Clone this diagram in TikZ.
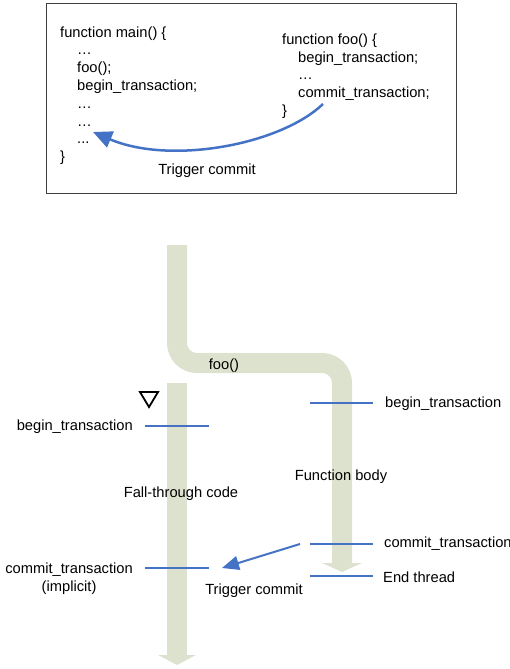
\documentclass[tikz,border=0pt]{standalone}
\usepackage{fontspec}
\setmainfont{Liberation Sans}
\usetikzlibrary{arrows.meta, positioning}
\definecolor{flowband}{RGB}{221,226,206}
\definecolor{callblue}{RGB}{68,114,196}
\newcommand{\labelfont}{\fontsize{14.7}{17.8}\selectfont}
\tikzstyle{band}      = [line width=20pt, draw=flowband]
\tikzstyle{bandtip}   = [fill=flowband]
\tikzstyle{txmark}    = [draw=callblue, line width=2pt]
\tikzstyle{callarrow} = [draw=callblue, line width=2pt, -{Triangle[length=17pt,width=14pt]}]
\tikzset{every node/.style={font=\labelfont, inner sep=0pt}}

\begin{document}
\begin{tikzpicture}[x=1pt, y=-1pt]
    \useasboundingbox (0,0) rectangle (509,669);

    % source listing (base anchor = last line)
    \draw[black!75, line width=1pt] (46,4) rectangle (456,193);
    \node[anchor=base west, align=left] (mainSrc) at (60,161.6)
        {function main() \{\\
         \hspace*{17pt}…\\
         \hspace*{17pt}foo();\\
         \hspace*{17pt}begin\_transaction;\\
         \hspace*{17pt}…\\
         \hspace*{17pt}…\\
         \hspace*{17pt}...\\
         \}};
    \node[anchor=base west, align=left] (fooSrc) at (282,115.5)
        {function foo() \{\\
         \hspace*{16pt}begin\_transaction;\\
         \hspace*{16pt}…\\
         \hspace*{16pt}commit\_transaction;\\
         \}};
    \coordinate (srcCommit) at (323,104);
    \coordinate (srcDots)   at (93,132);
    \draw[callarrow, line width=2.5pt, -{Triangle[length=19pt,width=17pt]}]
        (srcCommit) .. controls (280,145) and (170,165) .. (srcDots);
    \node[anchor=base] (trigTop) at (207,174) {Trigger commit};

    % threads
    \draw[band, rounded corners=20pt] (177,245) -- (177,363) -- (342,363) -- (342,563);
    \fill[bandtip] (322,563) -- (362,563) -- (342,572) -- cycle;
    \draw[band] (177,383) -- (177,655);
    \fill[bandtip] (158,655) -- (196,655) -- (177,665) -- cycle;
    \node[anchor=base] (fooCall) at (224,369) {foo()};
    \draw[line width=1.8pt] (140,392) -- (158,392) -- (149,407) -- cycle;

    % transaction marks
    \draw[txmark] (145,426) -- (209,426);
    \draw[txmark] (310,403) -- (373,403);
    \draw[txmark] (310,544) -- (373,544);
    \draw[txmark] (310,576) -- (373,576);
    \draw[txmark] (145,568) -- (209,568);

    \node[anchor=base east] (mainBegin) at (133,430) {begin\_transaction};
    \node[anchor=base west] (fooBegin)  at (385,407) {begin\_transaction};
    \node[anchor=base] (fooBody)     at (341,480) {Function body};
    \node[anchor=base] (fallThrough) at (181,497) {Fall-through code};
    \node[anchor=base west] (fooCommit) at (384,547) {commit\_transaction};
    \node[anchor=base west] (endThread) at (383,582) {End thread};
    \node[anchor=base east, align=center] (mainCommit) at (133,591.5)
        {commit\_transaction\\(implicit)};

    \coordinate (commitFrom) at (300,544);
    \coordinate (commitTo)   at (222,568);
    \draw[callarrow] (commitFrom) -- (commitTo);
    \node[anchor=base] (trigLow) at (254,594) {Trigger commit};
\end{tikzpicture}
\end{document}
